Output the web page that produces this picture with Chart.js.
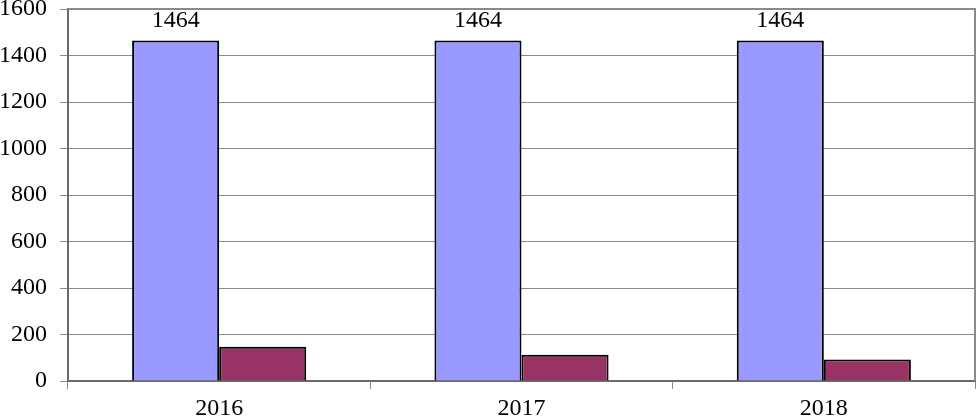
<!DOCTYPE html>
<html><head><meta charset="utf-8">
<script src="https://cdn.jsdelivr.net/npm/chart.js@4/dist/chart.umd.min.js"></script>
<style>html,body{margin:0;padding:0;background:#fff}#w{width:978px;height:419px}</style>
</head><body><div id="w"><canvas id="c"></canvas></div>
<script>
const categories = ['2016', '2017', '2018'];
const seriesA = [1464, 1464, 1464];
const seriesB = [147, 113, 93];
const yTicks = [0, 200, 400, 600, 800, 1000, 1200, 1400, 1600];

const labelPlugin = {
  id: 'lbl',
  afterDatasetsDraw(chart) {
    const ctx = chart.ctx;
    const meta = chart.getDatasetMeta(0);
    ctx.save();
    ctx.font = '24px "Liberation Serif"';
    ctx.fillStyle = '#000';
    ctx.textAlign = 'center';
    ctx.textBaseline = 'alphabetic';
    meta.data.forEach((el, i) => {
      ctx.fillText(String(seriesA[i]), el.x, el.y - 14);
    });
    ctx.restore();
  }
};
const borderPlugin = {
  id: 'brd',
  beforeDatasetsDraw(chart) {
    const {ctx, chartArea: a} = chart;
    ctx.save();
    ctx.strokeStyle = '#8a8a8a';
    ctx.lineWidth = 2;
    ctx.beginPath();
    ctx.moveTo(a.left, a.top); ctx.lineTo(a.right, a.top); ctx.lineTo(a.right, a.bottom);
    ctx.stroke();
    ctx.restore();
  }
};

new Chart(document.getElementById('c'), {
  type: 'bar',
  data: {
    labels: categories,
    datasets: [
      {data: seriesA, backgroundColor: '#9999ff', borderColor: '#000', borderWidth: 2, barPercentage: 1, categoryPercentage: 0.576},
      {data: seriesB, backgroundColor: '#993366', borderColor: '#000', borderWidth: 2, barPercentage: 1, categoryPercentage: 0.576}
    ]
  },
  options: {
    responsive: true, maintainAspectRatio: false, animation: false,
    layout: {padding: {top: 0, right: 3, left: 0, bottom: 0}},
    plugins: {legend: {display: false}, tooltip: {enabled: false}},
    scales: {
      x: {
        afterFit(axis) { axis.height = 38; axis.paddingLeft = 0; axis.paddingRight = 0; },
        grid: {offset: true, display: true, drawOnChartArea: false, drawTicks: true, tickLength: 8, color: '#8a8a8a'},
        border: {display: true, color: '#6a6a6a', width: 2},
        ticks: {color: '#000', font: {family: 'Liberation Serif', size: 24}, padding: 5}
      },
      y: {
        min: 0, max: 1600,
        afterBuildTicks(axis) { axis.ticks = yTicks.map(v => ({value: v})); },
        afterFit(axis) { axis.width = 68; axis.paddingTop = 9; axis.paddingBottom = 0; },
        grid: {color: '#8a8a8a', lineWidth: 1, tickLength: 8},
        border: {display: true, color: '#6a6a6a', width: 2},
        ticks: {color: '#000', font: {family: 'Liberation Serif', size: 24}, padding: 13, callback: v => String(v)}
      }
    }
  },
  plugins: [borderPlugin, labelPlugin]
});
</script></body></html>
